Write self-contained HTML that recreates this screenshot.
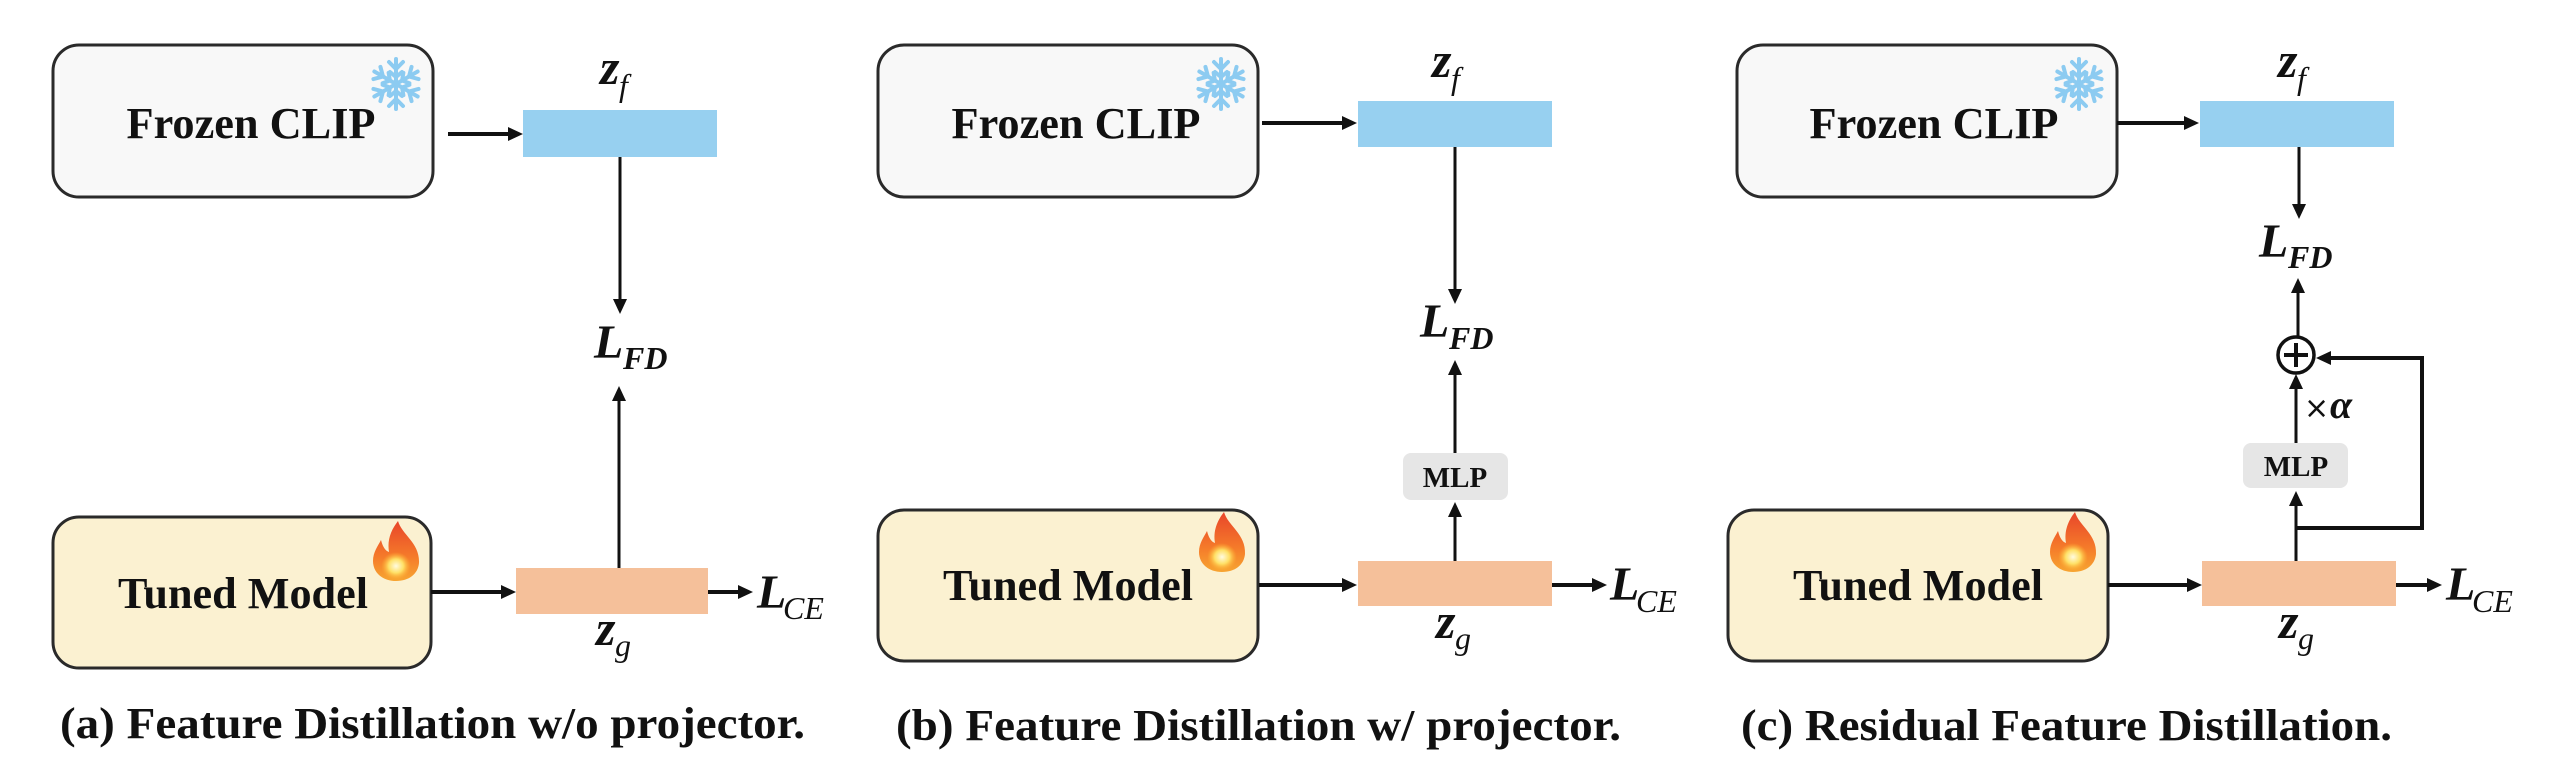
<!DOCTYPE html>
<html><head><meta charset="utf-8"><style>
html,body{margin:0;padding:0;background:#fff;}
svg{display:block;}
.box{stroke:#2a2a2a;stroke-width:3;}
.lbl{font-family:"Liberation Serif",serif;font-weight:bold;font-size:44px;fill:#111;}
.mlp{font-family:"Liberation Serif",serif;font-weight:bold;font-size:29px;fill:#111;}
.mi{font-family:"Liberation Serif",serif;font-style:italic;fill:#111;}
.ln{stroke:#111;stroke-width:3;fill:none;}
.lnt{stroke:#111;stroke-width:4;fill:none;}
</style></head><body>
<svg width="2554" height="758" viewBox="0 0 2554 758" xmlns="http://www.w3.org/2000/svg">
<defs>
  <linearGradient id="fg" x1="0" y1="0" x2="0" y2="1">
    <stop offset="0" stop-color="#e8452a"/>
    <stop offset="0.6" stop-color="#f57b2a"/>
    <stop offset="1" stop-color="#f7a531"/>
  </linearGradient>
  <radialGradient id="fy" cx="0.5" cy="0.5" r="0.5">
    <stop offset="0" stop-color="#fffbe0"/>
    <stop offset="0.5" stop-color="#ffe066"/>
    <stop offset="1" stop-color="#ffb030" stop-opacity="0"/>
  </radialGradient>
  <g id="fire">
    <path d="M26 0 C30 14 48 22 47 42 C46 53 37 60 24 60 C11 60 1 52 1 40 C1 31 6 25 9 19 C11 27 14 30 17 31 C15 19 19 9 26 0 Z" fill="url(#fg)"/>
    <ellipse cx="24" cy="45" rx="15" ry="14" fill="url(#fy)"/>
  </g>
  <g id="snow" stroke="#8ccbf1" stroke-width="4" stroke-linecap="round" fill="none">
    <g id="arm"><line x1="0" y1="0" x2="0" y2="-25"/><polyline points="-7,-22 0,-15 7,-22"/><polyline points="-6,-12 0,-7 6,-12"/></g>
    <use href="#arm" transform="rotate(60)"/>
    <use href="#arm" transform="rotate(120)"/>
    <use href="#arm" transform="rotate(180)"/>
    <use href="#arm" transform="rotate(240)"/>
    <use href="#arm" transform="rotate(300)"/>
  </g>
</defs>

<!-- ===== Panel (a) ===== -->
<rect class="box" x="53" y="45" width="380" height="152" rx="26" fill="#f8f8f8"/>
<text class="lbl" x="251" y="138" text-anchor="middle" textLength="249" lengthAdjust="spacingAndGlyphs">Frozen CLIP</text>
<use href="#snow" transform="translate(396,84)"/>
<line class="lnt" x1="448" y1="134" x2="510" y2="134"/><polygon points="523,134 508,127 508,141" fill="#111"/>
<rect x="523" y="110" width="194" height="47" fill="#97d0f0"/>
<text class="mi" x="600" y="84" font-size="50" font-weight="bold">z</text><text class="mi" x="619" y="96" font-size="32">f</text>
<line class="ln" x1="620" y1="157" x2="620" y2="300"/><polygon points="620,314 613,299 627,299" fill="#111"/>
<text class="mi" x="594" y="358" font-size="48" font-weight="bold">L</text><text class="mi" x="623" y="369" font-size="32" font-weight="bold">FD</text>
<line class="ln" x1="619" y1="568" x2="619" y2="400"/><polygon points="619,386 612,401 626,401" fill="#111"/>
<rect class="box" x="53" y="517" width="378" height="151" rx="26" fill="#fbf1d1"/>
<text class="lbl" x="243" y="608" text-anchor="middle" textLength="250" lengthAdjust="spacingAndGlyphs">Tuned Model</text>
<use href="#fire" transform="translate(372,521)"/>
<line class="lnt" x1="431" y1="592" x2="502" y2="592"/><polygon points="516,592 501,585 501,599" fill="#111"/>
<rect x="516" y="568" width="192" height="46" fill="#f5c09a"/>
<line class="lnt" x1="708" y1="592" x2="740" y2="592"/><polygon points="753,592 738,585 738,599" fill="#111"/>
<text class="mi" x="757" y="608" font-size="48" font-weight="bold">L</text><text class="mi" x="783" y="619" font-size="32">CE</text>
<text class="mi" x="596" y="645" font-size="50" font-weight="bold">z</text><text class="mi" x="615" y="656" font-size="32">g</text>
<text class="lbl" x="60" y="738" textLength="745" lengthAdjust="spacingAndGlyphs">(a) Feature Distillation w/o projector.</text>

<!-- ===== Panel (b) ===== -->
<rect class="box" x="878" y="45" width="380" height="152" rx="26" fill="#f8f8f8"/>
<text class="lbl" x="1076" y="138" text-anchor="middle" textLength="249" lengthAdjust="spacingAndGlyphs">Frozen CLIP</text>
<use href="#snow" transform="translate(1221,84)"/>
<line class="lnt" x1="1262" y1="123" x2="1343" y2="123"/><polygon points="1357,123 1342,116 1342,130" fill="#111"/>
<rect x="1358" y="101" width="194" height="46" fill="#97d0f0"/>
<text class="mi" x="1432" y="77" font-size="50" font-weight="bold">z</text><text class="mi" x="1451" y="89" font-size="32">f</text>
<line class="ln" x1="1455" y1="147" x2="1455" y2="290"/><polygon points="1455,304 1448,289 1462,289" fill="#111"/>
<text class="mi" x="1420" y="337" font-size="48" font-weight="bold">L</text><text class="mi" x="1449" y="349" font-size="32" font-weight="bold">FD</text>
<line class="ln" x1="1455" y1="453" x2="1455" y2="374"/><polygon points="1455,360 1448,375 1462,375" fill="#111"/>
<rect x="1403" y="453" width="105" height="47" rx="8" fill="#e6e6e6"/>
<text class="mlp" x="1455" y="487" text-anchor="middle">MLP</text>
<line class="ln" x1="1455" y1="561" x2="1455" y2="516"/><polygon points="1455,502 1448,517 1462,517" fill="#111"/>
<rect class="box" x="878" y="510" width="380" height="151" rx="26" fill="#fbf1d1"/>
<text class="lbl" x="1068" y="600" text-anchor="middle" textLength="250" lengthAdjust="spacingAndGlyphs">Tuned Model</text>
<use href="#fire" transform="translate(1198,512)"/>
<line class="lnt" x1="1259" y1="585" x2="1343" y2="585"/><polygon points="1357,585 1342,578 1342,592" fill="#111"/>
<rect x="1358" y="561" width="194" height="45" fill="#f5c09a"/>
<line class="lnt" x1="1552" y1="585" x2="1593" y2="585"/><polygon points="1607,585 1592,578 1592,592" fill="#111"/>
<text class="mi" x="1610" y="600" font-size="48" font-weight="bold">L</text><text class="mi" x="1636" y="612" font-size="32">CE</text>
<text class="mi" x="1436" y="638" font-size="50" font-weight="bold">z</text><text class="mi" x="1455" y="649" font-size="32">g</text>
<text class="lbl" x="896" y="740" textLength="725" lengthAdjust="spacingAndGlyphs">(b) Feature Distillation w/ projector.</text>

<!-- ===== Panel (c) ===== -->
<rect class="box" x="1737" y="45" width="380" height="152" rx="26" fill="#f8f8f8"/>
<text class="lbl" x="1934" y="138" text-anchor="middle" textLength="249" lengthAdjust="spacingAndGlyphs">Frozen CLIP</text>
<use href="#snow" transform="translate(2079,84)"/>
<line class="lnt" x1="2117" y1="123" x2="2185" y2="123"/><polygon points="2199,123 2184,116 2184,130" fill="#111"/>
<rect x="2200" y="101" width="194" height="46" fill="#97d0f0"/>
<text class="mi" x="2278" y="77" font-size="50" font-weight="bold">z</text><text class="mi" x="2297" y="89" font-size="32">f</text>
<line class="ln" x1="2299" y1="147" x2="2299" y2="205"/><polygon points="2299,219 2292,204 2306,204" fill="#111"/>
<text class="mi" x="2259" y="257" font-size="48" font-weight="bold">L</text><text class="mi" x="2288" y="268" font-size="32" font-weight="bold">FD</text>
<line class="ln" x1="2298" y1="336" x2="2298" y2="292"/><polygon points="2298,278 2291,293 2305,293" fill="#111"/>
<circle cx="2296" cy="355" r="18" fill="#fff" stroke="#111" stroke-width="3.5"/>
<line class="lnt" x1="2284" y1="355" x2="2308" y2="355"/><line class="lnt" x1="2296" y1="343" x2="2296" y2="367"/>
<line class="ln" x1="2296" y1="443" x2="2296" y2="388"/><polygon points="2296,374 2289,389 2303,389" fill="#111"/>
<text x="2304" y="418" font-family="DejaVu Sans,sans-serif" font-size="30" fill="#111">×</text>
<text class="mi" x="2330" y="418" font-size="40" font-weight="bold">α</text>
<rect x="2243" y="443" width="105" height="45" rx="8" fill="#e6e6e6"/>
<text class="mlp" x="2296" y="476" text-anchor="middle">MLP</text>
<line class="ln" x1="2296" y1="561" x2="2296" y2="505"/><polygon points="2296,491 2289,506 2303,506" fill="#111"/>
<polyline class="lnt" points="2296,528 2422,528 2422,358 2330,358"/><polygon points="2316,358 2331,351 2331,365" fill="#111"/>
<rect class="box" x="1728" y="510" width="380" height="151" rx="26" fill="#fbf1d1"/>
<text class="lbl" x="1918" y="600" text-anchor="middle" textLength="250" lengthAdjust="spacingAndGlyphs">Tuned Model</text>
<use href="#fire" transform="translate(2049,512)"/>
<line class="lnt" x1="2108" y1="585" x2="2188" y2="585"/><polygon points="2202,585 2187,578 2187,592" fill="#111"/>
<rect x="2202" y="561" width="194" height="45" fill="#f5c09a"/>
<line class="lnt" x1="2396" y1="585" x2="2428" y2="585"/><polygon points="2442,585 2427,578 2427,592" fill="#111"/>
<text class="mi" x="2446" y="600" font-size="48" font-weight="bold">L</text><text class="mi" x="2472" y="612" font-size="32">CE</text>
<text class="mi" x="2279" y="638" font-size="50" font-weight="bold">z</text><text class="mi" x="2298" y="649" font-size="32">g</text>
<text class="lbl" x="1741" y="740" textLength="651" lengthAdjust="spacingAndGlyphs">(c) Residual Feature Distillation.</text>
</svg>
</body></html>
